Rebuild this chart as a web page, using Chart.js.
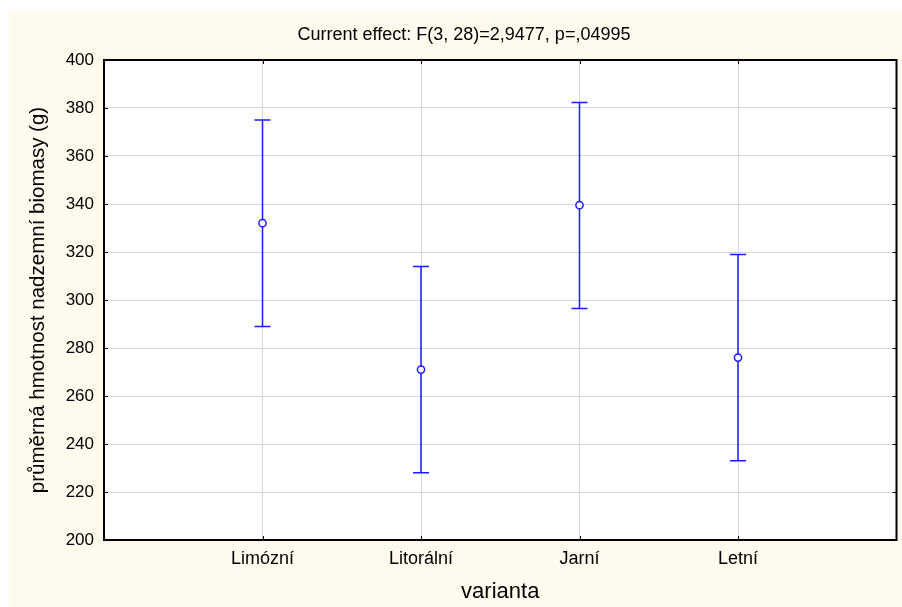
<!DOCTYPE html>
<html><head><meta charset="utf-8">
<script src="https://cdn.jsdelivr.net/npm/chart.js@4.4.1/dist/chart.umd.min.js"></script>
<style>html,body{margin:0;padding:0;background:#fff}canvas{display:block}</style>
</head><body>
<canvas id="c" width="902" height="607" style="width:902px;height:607px"></canvas>
<script>
const categories = ['Limózní', 'Litorální', 'Jarní', 'Letní'];
const means = [332, 271, 339.5, 276];
const upper = [375, 314, 382.3, 319];
const lower = [289, 228, 296.5, 233];
const yMin = 200, yMax = 400, yStep = 20;
const chartTitle = 'Current effect: F(3, 28)=2,9477, p=,04995';
const xTitle = 'varianta';
const yTitle = 'průměrná hmotnost nadzemní biomasy (g)';

const FONT = '"Liberation Sans", Arial, sans-serif';
const BLUE = '#1a1aff';
const GRID = '#d6d6d6';

const bgPlugin = {
  id: 'bg',
  beforeDraw(chart) {
    const ctx = chart.ctx, a = chart.chartArea;
    ctx.save();
    ctx.fillStyle = '#ffffff';
    ctx.fillRect(0, 0, chart.width, chart.height);
    ctx.fillStyle = '#fff9ee';
    ctx.fillRect(9, 11, chart.width - 9, chart.height - 11);
    ctx.fillStyle = '#ffffff';
    ctx.fillRect(a.left, a.top, a.right - a.left, a.bottom - a.top);
    ctx.restore();
  }
};

const errPlugin = {
  id: 'errbars',
  beforeDatasetsDraw(chart) {
    const ctx = chart.ctx, xs = chart.scales.x, ys = chart.scales.y;
    ctx.save();
    ctx.strokeStyle = BLUE;
    ctx.lineWidth = 1.5;
    categories.forEach((c, i) => {
      const x = xs.getPixelForValue(i + 1);
      const yt = ys.getPixelForValue(upper[i]);
      const yb = ys.getPixelForValue(lower[i]);
      ctx.beginPath();
      ctx.moveTo(x, yt); ctx.lineTo(x, yb);
      ctx.moveTo(x - 8, yt); ctx.lineTo(x + 8, yt);
      ctx.moveTo(x - 8, yb); ctx.lineTo(x + 8, yb);
      ctx.stroke();
    });
    ctx.restore();
  }
};

const framePlugin = {
  id: 'frame',
  afterDraw(chart) {
    const ctx = chart.ctx, a = chart.chartArea, xs = chart.scales.x, ys = chart.scales.y;
    ctx.save();
    ctx.strokeStyle = '#000';
    ctx.lineWidth = 1;
    ctx.beginPath();
    categories.forEach((c, i) => {
      const x = Math.round(xs.getPixelForValue(i + 1)) + 0.5;
      ctx.moveTo(x, a.bottom); ctx.lineTo(x, a.bottom - 4);
      ctx.moveTo(x, a.top); ctx.lineTo(x, a.top + 4);
    });
    ys.ticks.forEach(t => {
      const y = Math.round(ys.getPixelForValue(t.value)) + 0.5;
      ctx.moveTo(a.left, y); ctx.lineTo(a.left + 4, y);
      ctx.moveTo(a.right, y); ctx.lineTo(a.right - 4, y);
    });
    ctx.stroke();
    ctx.lineWidth = 2;
    ctx.strokeRect(a.left, a.top, a.right - a.left, a.bottom - a.top);

    ctx.fillStyle = '#000';
    ctx.textAlign = 'center';
    ctx.textBaseline = 'alphabetic';
    ctx.font = '18px ' + FONT;
    ctx.fillText(chartTitle, 464, 40);
    ctx.font = '22px ' + FONT;
    ctx.fillText(xTitle, (a.left + a.right) / 2, 598);
    ctx.translate(38, (a.top + a.bottom) / 2);
    ctx.rotate(-Math.PI / 2);
    ctx.textBaseline = 'middle';
    ctx.font = '20.5px ' + FONT;
    ctx.fillText(yTitle, 0, 0);
    ctx.restore();
  }
};

new Chart(document.getElementById('c'), {
  type: 'scatter',
  data: {
    datasets: [{
      data: means.map((m, i) => ({ x: i + 1, y: m })),
      showLine: false,
      pointStyle: 'circle',
      pointRadius: 3.6,
      pointBorderWidth: 1.5,
      pointBorderColor: BLUE,
      pointBackgroundColor: '#ffffff'
    }]
  },
  options: {
    responsive: false,
    devicePixelRatio: 1,
    animation: false,
    layout: { padding: { top: 60, right: 5, bottom: 0, left: 0 } },
    plugins: { legend: { display: false }, tooltip: { enabled: false }, title: { display: false } },
    scales: {
      x: {
        type: 'linear',
        min: 0, max: categories.length + 1,
        afterBuildTicks: s => { s.ticks = categories.map((c, i) => ({ value: i + 1 })); },
        afterFit: s => { s.height = 67; },
        ticks: {
          callback: v => categories[v - 1] ?? '',
          autoSkip: false, maxRotation: 0,
          color: '#000', padding: 8,
          font: { family: FONT, size: 18 }
        },
        grid: { color: GRID, lineWidth: 1, drawTicks: false },
        border: { display: false }
      },
      y: {
        min: yMin, max: yMax,
        afterFit: s => { s.width = 104; },
        ticks: {
          stepSize: yStep,
          color: '#000', padding: 10,
          font: { family: FONT, size: 17 }
        },
        grid: { color: GRID, lineWidth: 1, drawTicks: false },
        border: { display: false }
      }
    }
  },
  plugins: [bgPlugin, errPlugin, framePlugin]
});
</script>
</body></html>
